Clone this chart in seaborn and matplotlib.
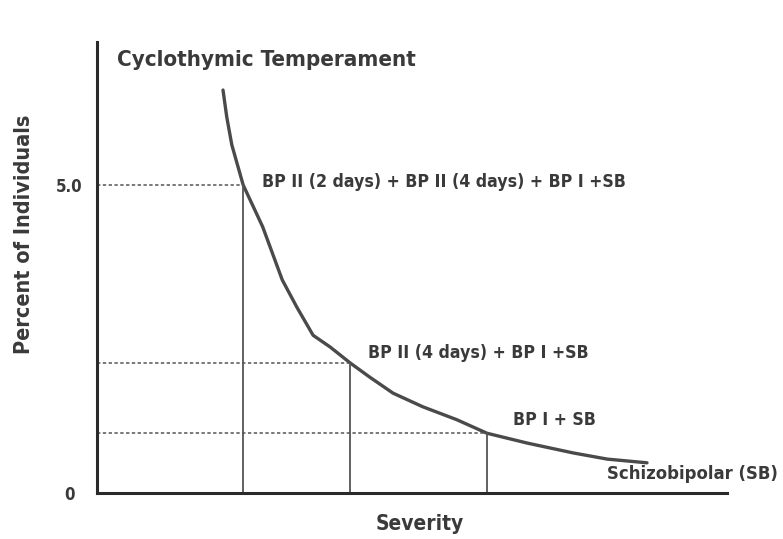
import numpy as np
import pandas as pd
import matplotlib
matplotlib.use("Agg")
import matplotlib.pyplot as plt
import seaborn as sns

# curve (severity in arbitrary units 0-10)
severity = [2.00, 2.06, 2.14, 2.32, 2.63, 2.94, 3.17, 3.43, 3.70, 4.02,
            4.33, 4.70, 5.17, 5.71, 6.19, 6.83, 7.56, 8.10, 8.73]
percent = [6.54, 6.10, 5.65, 5.00, 4.32, 3.46, 3.02, 2.56, 2.37, 2.11,
           1.88, 1.62, 1.40, 1.19, 0.97, 0.81, 0.65, 0.55, 0.49]

# threshold points marked with dashed / vertical guides
mark_x = [2.32, 4.02, 6.19]
mark_y = [5.0, 2.11, 0.97]
mark_labels = ["BP II (2 days) + BP II (4 days) + BP I +SB",
               "BP II (4 days) + BP I +SB",
               "BP I + SB"]
end_label = "Schizobipolar (SB)"

ytick_vals = [0, 5.0]
ytick_labels = ["0", "5.0"]

sns.set_style("white")
plt.rcParams["font.family"] = ["DejaVu Sans"]
plt.rcParams["font.stretch"] = "condensed"
plt.rcParams["font.weight"] = "bold"

ink = "#3a3a3a"

fig = plt.figure(figsize=(7.83, 5.39), dpi=100)
ax = fig.add_axes([97 / 783, 46 / 539, 630 / 783, 451 / 539])

df = pd.DataFrame({"Severity": severity, "Percent": percent})
sns.lineplot(data=df, x="Severity", y="Percent", ax=ax, color="#4a4a4a", lw=2.4)

for mx, my in zip(mark_x, mark_y):
    ax.plot([0, mx], [my, my], ls=(0, (2.2, 1.6)), color="#555555", lw=1.1)
    ax.plot([mx, mx], [0, my], color="#555555", lw=1.3)

offsets = [(19, 3), (18, 10), (26, 13)]
for mx, my, lab, off in zip(mark_x, mark_y, mark_labels, offsets):
    ax.annotate(lab, (mx, my), xytext=off, textcoords="offset pixels",
                ha="left", va="center", fontsize=12.7, color=ink,
                weight="bold", stretch="condensed")
ax.annotate(end_label, (severity[-1], percent[-1]), xytext=(-40, -11),
            textcoords="offset pixels", ha="left", va="center",
            fontsize=13.2, color=ink, weight="bold", stretch="condensed",
            annotation_clip=False)

ax.set_xlim(0, 10)
ax.set_ylim(0, 7.32)
ax.set_xticks([])
ax.set_yticks(ytick_vals)
ax.set_yticklabels(ytick_labels, fontsize=12, color=ink, weight="bold",
                   stretch="condensed")
ax.tick_params(axis="y", length=0, pad=20)
for t in ax.get_yticklabels():
    t.set_ha("center")
ax.set_xlabel("")
ax.set_ylabel("")

sns.despine(ax=ax)
for s in ["left", "bottom"]:
    ax.spines[s].set_linewidth(2.2)
    ax.spines[s].set_color("#2a2a2a")

fig.text(117 / 783, 1 - 60 / 539, "Cyclothymic Temperament", fontsize=16,
         weight="bold", stretch="condensed", color=ink, ha="left", va="center")
fig.text(24 / 783, 1 - 234 / 539, "Percent of Individuals", fontsize=15.5,
         weight="bold", stretch="condensed", color=ink, rotation=90,
         ha="center", va="center")
fig.text(420 / 783, 1 - 524 / 539, "Severity", fontsize=15,
         weight="bold", stretch="condensed", color=ink, ha="center", va="center")

fig.savefig("out.png", dpi=100, facecolor="white")
